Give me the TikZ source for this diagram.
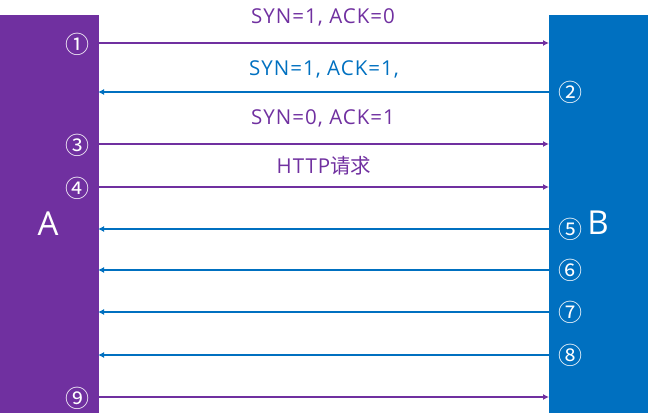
\documentclass[tikz,border=0pt]{standalone}
\usepackage{fontspec}
\setmainfont{Open Sans}
\newfontfamily\cjk{Noto Sans CJK SC}
\newfontfamily\msgfont[LetterSpace=5]{Open Sans}
\usetikzlibrary{arrows.meta,calc,positioning}
\definecolor{hspurple}{HTML}{7030A0}
\definecolor{hsblue}{HTML}{0070C0}
\tikzset{
 hs host/.style={rectangle,draw=none,anchor=north west,minimum width=99pt,
                 minimum height=398pt,inner sep=0pt,outer sep=0pt},
 hs name/.style={text=white,font=\fontsize{33}{33}\selectfont},
 hs step/.style={text=white,font=\cjk\fontsize{24}{24}\selectfont,inner sep=0pt},
 hs msg/.style={line width=1.3pt,-{Latex[length=6pt,width=6pt]}},
 hs msg label/.style={font=\msgfont\fontsize{20.5}{20.5}\selectfont,inner sep=0pt}
}
\begin{document}
\begin{tikzpicture}[x=1pt,y=-1pt]
 \useasboundingbox (0,0) rectangle (648,413);
 \node[hs host,fill=hspurple] (hostA) at (0,15) {};
 \node[hs host,fill=hsblue] (hostB) at (549,15) {};
 \node[hs name] (nameA) at (48,224) {A};
 \node[hs name] (nameB) at (598,223) {B};

 \foreach \i/\y in {1/43,2/92,3/144,4/187,5/229,6/270,7/312,8/355,9/397}{
  \coordinate (a\i) at (98,\y);
  \coordinate (b\i) at (549,\y);
 }

 \foreach \i in {1,3,4,9}
  \draw[hs msg,hspurple] (a\i)--(b\i);
 \foreach \i in {2,5,6,7,8}
  \draw[hs msg,hsblue] (b\i)--(a\i);

 \foreach \i/\s in {1/①,3/③,4/④,9/⑨}
  \node[hs step] (sa\i) at ($(a\i)+(-21,1)$) {\s};
 \foreach \i/\s in {2/②,5/⑤,6/⑥,7/⑦,8/⑧}
  \node[hs step] (sb\i) at ($(b\i)+(21,0)$) {\s};

 \node[hs msg label,text=hspurple] (m1) at (323,17) {SYN=1, ACK=0};
 \node[hs msg label,text=hsblue] (m2) at (324,69) {SYN=1, ACK=1,};
 \node[hs msg label,text=hspurple] (m3) at (323,118) {SYN=0, ACK=1};
 \node[hs msg label,text=hspurple] (m4) at (324,166) {HTTP{\cjk 请求}};
\end{tikzpicture}
\end{document}
